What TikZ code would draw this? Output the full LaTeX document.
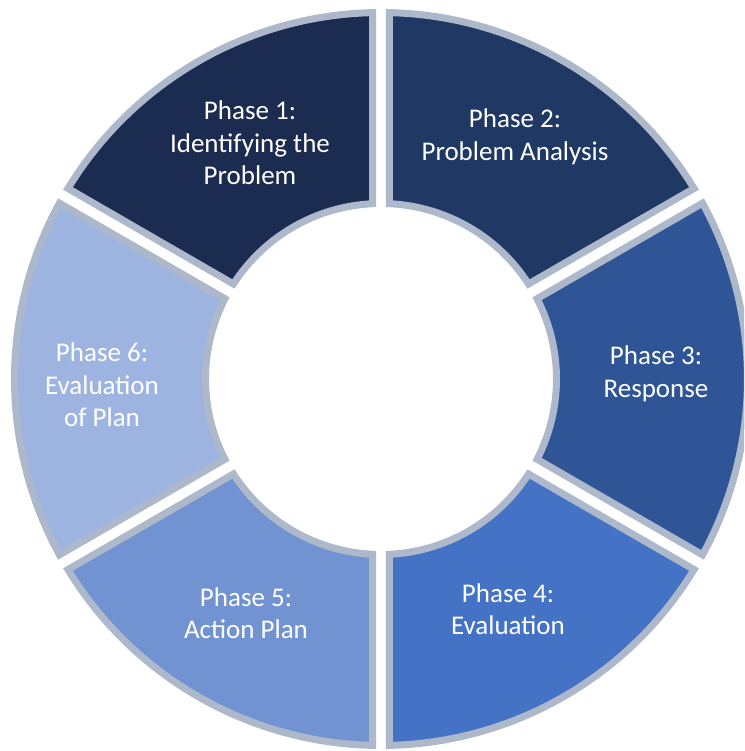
\documentclass[tikz,border=0pt]{standalone}
\usepackage{fontspec}
\setmainfont{Carlito}
\usepackage{tikz}
\usetikzlibrary{positioning}

\definecolor{phaseA}{RGB}{28,43,80}
\definecolor{phaseB}{RGB}{32,56,100}
\definecolor{phaseC}{RGB}{47,85,151}
\definecolor{phaseD}{RGB}{68,114,196}
\definecolor{phaseE}{RGB}{114,147,210}
\definecolor{phaseF}{RGB}{158,180,224}
\definecolor{rim}{RGB}{173,185,202}

\tikzset{
  segment/.style={draw=rim, line width=7pt},
  phase/.style={text=white, align=center, font=\fontsize{27}{32.5}\selectfont}
}

\begin{document}
\begin{tikzpicture}[x=1pt,y=1pt]
    \useasboundingbox (-381,-372) rectangle (363,379);
    \clip (-381,-372) rectangle (363,379);
    % ring of six phases, 60 degrees each
    \foreach \a/\col in {150/phaseA,90/phaseB,30/phaseC,-30/phaseD,-90/phaseE,-150/phaseF}{
      \draw[segment, fill=\col]
        (\a-1.329:366.5) arc[start angle=\a-1.329, end angle=\a-58.671, radius=366.5]
        -- (\a-57.224:175.5) arc[start angle=\a-57.224, end angle=\a-2.776, radius=175.5]
        -- cycle;
    }
    \node[phase] (p1) at (-131,236) {Phase 1:\\Identifying the\\Problem};
    \node[phase] (p2) at (134,242) {Phase 2:\\Problem Analysis};
    \node[phase] (p3) at (275,5) {Phase 3:\\Response};
    \node[phase] (p4) at (127,-230) {Phase 4:\\Evaluation};
    \node[phase] (p5) at (-135,-234) {Phase 5:\\Action Plan};
    \node[phase] (p6) at (-279,-6) {Phase 6:\\Evaluation\\of Plan};
\end{tikzpicture}
\end{document}
